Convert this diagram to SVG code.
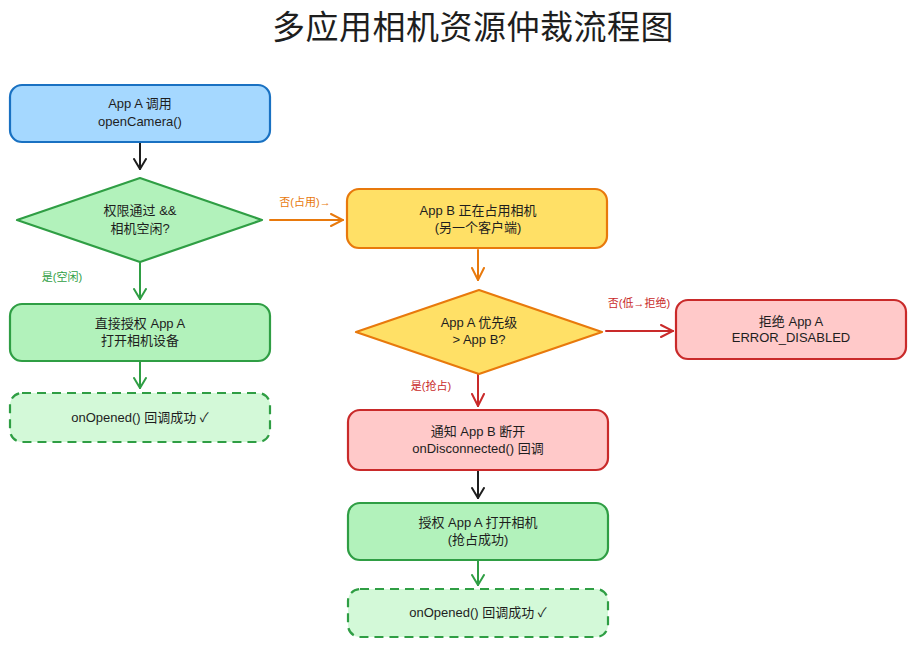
<svg xmlns="http://www.w3.org/2000/svg" width="916" height="647" viewBox="0 0 916 647">
<style>
.t{font-family:"Liberation Sans","Noto Sans CJK SC",sans-serif;font-size:13px;fill:#1e1e1e;text-anchor:middle}
.lbl{font-family:"Liberation Sans","Noto Sans CJK SC",sans-serif;font-size:11px;text-anchor:middle}
.title{font-family:"Noto Sans CJK SC",sans-serif;font-size:33px;fill:#1e1e1e;text-anchor:middle;letter-spacing:0.5px}
.blue{fill:#a5d8ff;stroke:#1971c2;stroke-width:2.2}
.green{fill:#b2f2bb;stroke:#2f9e44;stroke-width:2.2}
.lgreen{fill:#d3f9d8;stroke:#2f9e44;stroke-width:2.2;stroke-dasharray:9 6}
.yellow{fill:#ffe066;stroke:#e8790c;stroke-width:2.2}
.red{fill:#ffc9c9;stroke:#c92a2a;stroke-width:2.2}
.c{fill:none;stroke-width:2;stroke-linecap:round}
</style>
<defs>
<marker id="ak" viewBox="0 0 12 14" refX="11" refY="7" markerWidth="12" markerHeight="14" markerUnits="userSpaceOnUse" orient="auto"><path d="M1,1 L11,7 L1,13" fill="none" stroke="#1e1e1e" stroke-width="2" stroke-linecap="round"/></marker>
<marker id="ag" viewBox="0 0 12 14" refX="11" refY="7" markerWidth="12" markerHeight="14" markerUnits="userSpaceOnUse" orient="auto"><path d="M1,1 L11,7 L1,13" fill="none" stroke="#2f9e44" stroke-width="2" stroke-linecap="round"/></marker>
<marker id="ao" viewBox="0 0 14 14" refX="13" refY="7" markerWidth="14" markerHeight="14" markerUnits="userSpaceOnUse" orient="auto"><path d="M1,1 L13,7 L1,13" fill="none" stroke="#e8790c" stroke-width="2" stroke-linecap="round"/></marker>
<marker id="ar" viewBox="0 0 14 14" refX="13" refY="7" markerWidth="14" markerHeight="14" markerUnits="userSpaceOnUse" orient="auto"><path d="M1,1 L13,7 L1,13" fill="none" stroke="#c92a2a" stroke-width="2" stroke-linecap="round"/></marker>
</defs>
<rect width="916" height="647" fill="#ffffff"/>
<text class="title" x="473" y="39">多应用相机资源仲裁流程图</text>

<g id="connectors">
<path class="c" stroke="#1e1e1e" d="M140,143 L140,169" marker-end="url(#ak)"/>
<path class="c" stroke="#2f9e44" d="M140,263 L140,299" marker-end="url(#ag)"/>
<text class="lbl" x="62" y="281" fill="#2f9e44">是(空闲)</text>
<path class="c" stroke="#2f9e44" d="M140,362 L140,388" marker-end="url(#ag)"/>
<path class="c" stroke="#e8790c" d="M270,220 L343,220" marker-end="url(#ao)"/>
<text class="lbl" x="305" y="206" fill="#e8790c">否(占用)→</text>
<path class="c" stroke="#e8790c" d="M478,250 L478,280" marker-end="url(#ao)"/>
<path class="c" stroke="#c92a2a" d="M606,331 L673,331" marker-end="url(#ar)"/>
<text class="lbl" x="639" y="307" fill="#c92a2a">否(低→拒绝)</text>
<path class="c" stroke="#c92a2a" d="M478,374 L478,406" marker-end="url(#ar)"/>
<text class="lbl" x="431" y="390" fill="#c92a2a">是(抢占)</text>
<path class="c" stroke="#1e1e1e" d="M478,471 L478,498" marker-end="url(#ak)"/>
<path class="c" stroke="#2f9e44" d="M478,561 L478,585" marker-end="url(#ag)"/>
</g>

<g id="n1">
<rect class="blue" x="10" y="85" width="260" height="57" rx="12"/>
<text class="t" x="140" y="108">App A 调用</text>
<text class="t" x="140" y="126">openCamera()</text>
</g>
<g id="d1">
<path class="green" d="M140,178 L262,220 L140,262 L17,220 Z" stroke-linejoin="round"/>
<text class="t" x="140" y="215">权限通过 &amp;&amp;</text>
<text class="t" x="140" y="233">相机空闲?</text>
</g>
<g id="n2">
<rect class="green" x="10" y="304" width="260" height="57" rx="12"/>
<text class="t" x="140" y="328">直接授权 App A</text>
<text class="t" x="140" y="345">打开相机设备</text>
</g>
<g id="n3">
<rect class="lgreen" x="10" y="393" width="260" height="49" rx="12"/>
<text class="t" x="140" y="422">onOpened() 回调成功 ✓</text>
</g>
<g id="n4">
<rect class="yellow" x="347" y="189" width="260" height="59" rx="12"/>
<text class="t" x="478" y="215">App B 正在占用相机</text>
<text class="t" x="478" y="232">(另一个客户端)</text>
</g>
<g id="d2">
<path class="yellow" d="M479,290 L602,332 L479,374 L356,332 Z" stroke-linejoin="round"/>
<text class="t" x="479" y="327">App A 优先级</text>
<text class="t" x="479" y="344">&gt; App B?</text>
</g>
<g id="n5">
<rect class="red" x="676" y="300" width="230" height="59" rx="12"/>
<text class="t" x="791" y="326">拒绝 App A</text>
<text class="t" x="791" y="342">ERROR_DISABLED</text>
</g>
<g id="n6">
<rect class="red" x="348" y="410" width="260" height="60" rx="12"/>
<text class="t" x="478" y="436">通知 App B 断开</text>
<text class="t" x="478" y="453">onDisconnected() 回调</text>
</g>
<g id="n7">
<rect class="green" x="348" y="503" width="260" height="57" rx="12"/>
<text class="t" x="478" y="527">授权 App A 打开相机</text>
<text class="t" x="478" y="544">(抢占成功)</text>
</g>
<g id="n8">
<rect class="lgreen" x="348" y="589" width="260" height="48" rx="12"/>
<text class="t" x="478" y="617">onOpened() 回调成功 ✓</text>
</g>
</svg>
